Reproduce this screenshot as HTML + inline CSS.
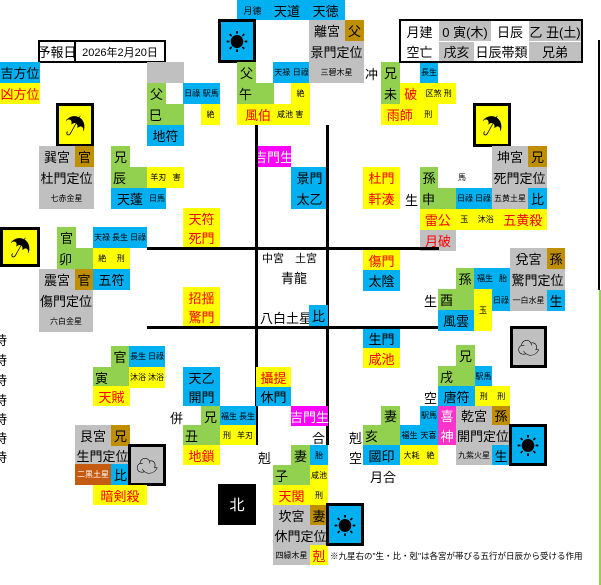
<!DOCTYPE html>
<html><head><meta charset="utf-8"><style>
body{margin:0;width:601px;height:585px;position:relative;overflow:hidden;background:#fff;font-family:"Liberation Sans","Noto Sans CJK JP",sans-serif;}
.c{position:absolute;box-sizing:border-box;display:flex;align-items:center;justify-content:center;font-size:13px;color:#000;white-space:nowrap;}
.s{font-size:8px;justify-content:space-around;}
.r{color:#f00}
.B{background:#00B0F0}.G{background:#92D050}.Y{background:#FFFF00}.A{background:#C0C0C0}.N{background:#BF8F00}.M{background:#FF00FF;color:#fff}
.L{position:absolute;background:#000}
.ic{position:absolute;box-sizing:border-box;border:3px solid #000;display:flex;align-items:center;justify-content:center;font-size:22px;}
.t{position:absolute;font-size:13px;}
</style></head><body>
<div class="c" style="left:38px;top:40px;width:38px;height:23px;border:2px solid #000">予報日</div>
<div class="c" style="left:74px;top:40px;width:92px;height:23px;border:2px solid #000;font-size:11px">2026年2月20日</div>
<div class="c B" style="left:0;top:62px;width:40px;height:21px">吉方位</div>
<div class="c Y r" style="left:0;top:83px;width:40px;height:21px">凶方位</div>
<div class="ic Y" style="left:56px;top:103px;width:38px;height:44px">☂</div>
<div class="c A" style="left:39px;top:146px;width:36px;height:21px">巽宮</div>
<div class="c N" style="left:75px;top:146px;width:19px;height:21px">官</div>
<div class="c A" style="left:39px;top:167px;width:55px;height:21px">杜門定位</div>
<div class="c A s" style="left:39px;top:188px;width:55px;height:21px">七赤金星</div>
<div class="c A" style="left:147px;top:62px;width:37px;height:21px"></div>
<div class="c G" style="left:147px;top:83px;width:19px;height:21px">父</div>
<div class="c B s" style="left:183px;top:83px;width:37px;height:21px"><span>日祿</span><span>駅馬</span></div>
<div class="c G" style="left:147px;top:104px;width:37px;height:21px;justify-content:flex-start;padding-left:2px">巳</div>
<div class="c Y s" style="left:201px;top:104px;width:19px;height:21px">絶</div>
<div class="c B" style="left:147px;top:125px;width:37px;height:21px">地符</div>
<div class="c G" style="left:111px;top:146px;width:19px;height:21px">兄</div>
<div class="c G" style="left:111px;top:167px;width:37px;height:21px;justify-content:flex-start;padding-left:2px">辰</div>
<div class="c Y s" style="left:147px;top:167px;width:37px;height:21px"><span>羊刃</span><span>害</span></div>
<div class="c B" style="left:111px;top:188px;width:55px;height:21px;justify-content:flex-start;padding-left:6px">天蓬<span style="font-size:8px;margin-left:6px">日馬</span></div>
<div class="c B" style="left:237px;top:0;width:108px;height:20px;justify-content:space-around"><span style="font-size:9px">月德</span><span>天道</span><span>天徳</span></div>
<div class="ic B" style="left:218px;top:19px;width:38px;height:44px">☀</div>
<div class="c G" style="left:237px;top:62px;width:19px;height:21px">父</div>
<div class="c B s" style="left:273px;top:62px;width:37px;height:21px"><span>天禄</span><span>日祿</span></div>
<div class="c G" style="left:237px;top:83px;width:37px;height:21px;justify-content:flex-start;padding-left:2px">午</div>
<div class="c Y s" style="left:291px;top:83px;width:19px;height:21px">絶</div>
<div class="c Y" style="left:237px;top:104px;width:73px;height:21px;justify-content:flex-start;padding-left:8px"><span class="r">風伯</span><span style="font-size:8px;margin-left:6px">咸池 害</span></div>
<div class="c A" style="left:309px;top:20px;width:36px;height:21px">離宮</div>
<div class="c N" style="left:345px;top:20px;width:19px;height:21px">父</div>
<div class="c A" style="left:309px;top:41px;width:55px;height:21px">景門定位</div>
<div class="c A s" style="left:309px;top:62px;width:55px;height:21px">三碧木星</div>
<div class="t" style="left:365px;top:64px">冲</div>
<div class="c G" style="left:381px;top:62px;width:19px;height:21px">兄</div>
<div class="c B s" style="left:420px;top:62px;width:18px;height:21px">長生</div>
<div class="c G" style="left:381px;top:83px;width:19px;height:21px">未</div>
<div class="c Y" style="left:400px;top:83px;width:56px;height:21px;justify-content:space-around"><span class="r">破</span><span style="font-size:8px">区煞 刑</span></div>
<div class="c Y" style="left:381px;top:104px;width:57px;height:21px;justify-content:space-around"><span class="r">雨師</span><span style="font-size:8px">刑</span></div>
<div style="position:absolute;left:399px;top:19px;width:184px;height:44px;border:2px solid #000;box-sizing:border-box"></div>
<div class="c" style="left:401px;top:21px;width:37px;height:20px">月建</div>
<div class="c A" style="left:439px;top:21px;width:52px;height:20px">0 寅(木)</div>
<div class="c" style="left:492px;top:21px;width:36px;height:20px">日辰</div>
<div class="c A" style="left:529px;top:21px;width:52px;height:20px">乙 丑(土)</div>
<div class="c" style="left:401px;top:42px;width:37px;height:19px">空亡</div>
<div class="c A" style="left:439px;top:42px;width:35px;height:19px">戌亥</div>
<div class="c" style="left:475px;top:42px;width:53px;height:19px">日辰帯類</div>
<div class="c A" style="left:529px;top:42px;width:52px;height:19px">兄弟</div>
<div class="L" style="left:598px;top:40px;width:2px;height:250px"></div>
<div style="position:absolute;left:599px;top:290px;width:2px;height:295px;background:#92D050"></div>
<div class="ic Y" style="left:473px;top:103px;width:38px;height:44px">☂</div>
<div class="c A" style="left:492px;top:146px;width:36px;height:21px">坤宮</div>
<div class="c N" style="left:528px;top:146px;width:19px;height:21px">兄</div>
<div class="c A" style="left:492px;top:167px;width:55px;height:21px">死門定位</div>
<div class="c A s" style="left:492px;top:188px;width:36px;height:21px">五黄土星</div>
<div class="c B" style="left:528px;top:188px;width:19px;height:21px">比</div>
<div class="c G" style="left:420px;top:167px;width:18px;height:21px">孫</div>
<div class="t" style="left:458px;top:172px;font-size:8px">馬</div>
<div class="t" style="left:405px;top:190px">生</div>
<div class="c G" style="left:420px;top:188px;width:36px;height:21px;justify-content:flex-start;padding-left:2px">申</div>
<div class="c B s" style="left:456px;top:188px;width:36px;height:21px"><span>日祿</span><span>日祿</span></div>
<div class="c Y" style="left:420px;top:209px;width:127px;height:21px;justify-content:space-around"><span class="r">雷公</span><span style="font-size:8px">玉</span><span style="font-size:8px">沐浴</span><span class="r">五黄殺</span></div>
<div class="c A r" style="left:420px;top:230px;width:36px;height:21px">月破</div>
<div class="c Y r" style="left:363px;top:167px;width:37px;height:21px">杜門</div>
<div class="c Y r" style="left:363px;top:188px;width:37px;height:21px">軒湊</div>
<div class="c B" style="left:291px;top:167px;width:37px;height:21px">景門</div>
<div class="c B" style="left:291px;top:188px;width:37px;height:21px">太乙</div>
<div class="c M" style="left:256px;top:146px;width:35px;height:21px">吉門生</div>
<div class="L" style="left:255px;top:125px;width:3px;height:320px"></div>
<div class="L" style="left:326px;top:125px;width:3px;height:320px"></div>
<div class="L" style="left:147px;top:247px;width:292px;height:3px"></div>
<div class="L" style="left:147px;top:326px;width:292px;height:3px"></div>
<div class="t" style="left:262px;top:250px;font-size:11px">中宮　土宮</div>
<div class="t" style="left:281px;top:268px">青龍</div>
<div class="t" style="left:260px;top:308px">八白土星</div>
<div class="c B" style="left:309px;top:305px;width:19px;height:21px">比</div>
<div class="c Y r" style="left:183px;top:208px;width:37px;height:20px">天符</div>
<div class="c Y r" style="left:183px;top:228px;width:37px;height:19px">死門</div>
<div class="c Y r" style="left:183px;top:287px;width:37px;height:20px">招揺</div>
<div class="c Y r" style="left:183px;top:307px;width:37px;height:19px">驚門</div>
<div class="c Y r" style="left:363px;top:250px;width:37px;height:20px">傷門</div>
<div class="c B" style="left:363px;top:270px;width:37px;height:21px">太陰</div>
<div class="c B" style="left:363px;top:329px;width:37px;height:19px">生門</div>
<div class="c Y r" style="left:363px;top:348px;width:37px;height:20px">咸池</div>
<div class="ic Y" style="left:0;top:227px;width:40px;height:40px">☂</div>
<div class="c G" style="left:57px;top:227px;width:19px;height:21px">官</div>
<div class="c G" style="left:57px;top:248px;width:36px;height:21px;justify-content:flex-start;padding-left:2px">卯</div>
<div class="c B s" style="left:93px;top:227px;width:54px;height:21px"><span>天禄</span><span>長生</span><span>日祿</span></div>
<div class="c Y s" style="left:93px;top:248px;width:37px;height:21px"><span>絶</span><span>刑</span></div>
<div class="c A" style="left:39px;top:269px;width:36px;height:21px">震宮</div>
<div class="c N" style="left:75px;top:269px;width:18px;height:21px">官</div>
<div class="c B" style="left:93px;top:269px;width:37px;height:21px">五符</div>
<div class="c A" style="left:39px;top:290px;width:54px;height:21px">傷門定位</div>
<div class="c A s" style="left:39px;top:311px;width:54px;height:21px">六白金星</div>
<div class="t" style="left:-6px;top:330px">時</div>
<div class="t" style="left:-6px;top:350px">時</div>
<div class="t" style="left:-6px;top:370px">時</div>
<div class="t" style="left:-6px;top:390px">時</div>
<div class="t" style="left:-6px;top:409px">時</div>
<div class="t" style="left:-6px;top:428px">時</div>
<div class="t" style="left:-6px;top:447px">時</div>
<div class="c G" style="left:111px;top:346px;width:18px;height:21px">官</div>
<div class="c B s" style="left:129px;top:346px;width:36px;height:21px"><span>長生</span><span>日祿</span></div>
<div class="c G" style="left:93px;top:367px;width:36px;height:21px;justify-content:flex-start;padding-left:2px">寅</div>
<div class="c Y s" style="left:129px;top:367px;width:36px;height:21px"><span>沐浴</span><span>沐浴</span></div>
<div class="c Y r" style="left:93px;top:386px;width:37px;height:20px">天賊</div>
<div class="c A" style="left:75px;top:425px;width:36px;height:21px">艮宮</div>
<div class="c N" style="left:111px;top:425px;width:19px;height:21px">兄</div>
<div class="c A" style="left:75px;top:446px;width:55px;height:19px">生門定位</div>
<div class="c s" style="left:75px;top:464px;width:36px;height:21px;background:#C55A11;color:#fff">二黒土星</div>
<div class="c B" style="left:111px;top:464px;width:19px;height:21px">比</div>
<div class="ic A" style="left:128px;top:444px;width:38px;height:42px">☁</div>
<div class="c Y r" style="left:93px;top:485px;width:54px;height:20px">暗剣殺</div>
<div class="c B" style="left:183px;top:367px;width:37px;height:20px">天乙</div>
<div class="c B" style="left:183px;top:387px;width:37px;height:19px">開門</div>
<div class="t" style="left:170px;top:408px">併</div>
<div class="c G" style="left:201px;top:406px;width:19px;height:20px">兄</div>
<div class="c B s" style="left:220px;top:406px;width:36px;height:20px"><span>福生</span><span>長生</span></div>
<div class="c G" style="left:183px;top:425px;width:37px;height:20px;justify-content:flex-start;padding-left:2px">丑</div>
<div class="c Y s" style="left:220px;top:425px;width:36px;height:20px"><span>刑</span><span>羊刃</span></div>
<div class="c Y r" style="left:183px;top:445px;width:37px;height:20px">地鎖</div>
<div class="c Y r" style="left:256px;top:367px;width:35px;height:20px">攝提</div>
<div class="c B" style="left:256px;top:387px;width:35px;height:19px">休門</div>
<div class="c M" style="left:291px;top:406px;width:37px;height:20px">吉門生</div>
<div class="t" style="left:312px;top:428px">合</div>
<div class="t" style="left:258px;top:448px">剋</div>
<div class="c" style="left:218px;top:484px;width:38px;height:41px;background:#000;color:#fff;font-size:15px">北</div>
<div class="c G" style="left:291px;top:445px;width:19px;height:20px">妻</div>
<div class="c B s" style="left:310px;top:445px;width:18px;height:20px">胎</div>
<div class="c G" style="left:273px;top:465px;width:37px;height:20px;justify-content:flex-start;padding-left:2px">子</div>
<div class="c Y s" style="left:310px;top:465px;width:18px;height:20px">咸池</div>
<div class="c Y r" style="left:273px;top:485px;width:37px;height:20px">天関</div>
<div class="c Y s" style="left:310px;top:485px;width:18px;height:20px">刑</div>
<div class="c A" style="left:273px;top:505px;width:37px;height:20px">坎宮</div>
<div class="c N" style="left:310px;top:505px;width:18px;height:20px">妻</div>
<div class="c A" style="left:273px;top:525px;width:55px;height:20px">休門定位</div>
<div class="c A s" style="left:273px;top:545px;width:37px;height:20px">四緑木星</div>
<div class="c Y r" style="left:310px;top:545px;width:18px;height:20px">剋</div>
<div class="ic B" style="left:326px;top:503px;width:38px;height:43px">☀</div>
<div class="t" style="left:330px;top:550px;font-size:8.5px">※九星右の"生・比・剋"は各宮が帯びる五行が日辰から受ける作用</div>
<div class="c G" style="left:456px;top:345px;width:19px;height:21px">兄</div>
<div class="c G" style="left:438px;top:366px;width:37px;height:21px;justify-content:flex-start;padding-left:2px">戌</div>
<div class="c B s" style="left:475px;top:366px;width:17px;height:21px">駅馬</div>
<div class="t" style="left:424px;top:388px">空</div>
<div class="c B" style="left:438px;top:386px;width:37px;height:20px">唐符</div>
<div class="c Y s" style="left:475px;top:386px;width:35px;height:20px"><span>刑</span><span>刑</span></div>
<div class="c G" style="left:381px;top:406px;width:19px;height:19px">妻</div>
<div class="c B s" style="left:420px;top:406px;width:18px;height:19px">駅馬</div>
<div class="c" style="left:438px;top:406px;width:18px;height:19px;background:#FF33CC;color:#fff">喜</div>
<div class="c" style="left:438px;top:425px;width:18px;height:20px;background:#FF33CC;color:#fff">神</div>
<div class="c A" style="left:456px;top:406px;width:36px;height:19px">乾宮</div>
<div class="c N" style="left:492px;top:406px;width:18px;height:19px">孫</div>
<div class="c A" style="left:456px;top:425px;width:54px;height:20px">開門定位</div>
<div class="c A s" style="left:456px;top:445px;width:36px;height:20px">九紫火星</div>
<div class="c B" style="left:492px;top:445px;width:18px;height:20px">生</div>
<div class="ic B" style="left:509px;top:424px;width:38px;height:42px">☀</div>
<div class="t" style="left:349px;top:428px">剋</div>
<div class="c G" style="left:363px;top:425px;width:37px;height:20px;justify-content:flex-start;padding-left:2px">亥</div>
<div class="c B s" style="left:400px;top:425px;width:38px;height:20px"><span>福生</span><span>天喜</span></div>
<div class="t" style="left:349px;top:448px">空</div>
<div class="c B" style="left:363px;top:445px;width:37px;height:20px">國印</div>
<div class="c Y s" style="left:400px;top:445px;width:38px;height:20px"><span>大耗</span><span>絶</span></div>
<div class="t" style="left:370px;top:467px">月合</div>
<div class="c A" style="left:510px;top:248px;width:37px;height:21px">兌宮</div>
<div class="c N" style="left:547px;top:248px;width:18px;height:21px">孫</div>
<div class="c A" style="left:510px;top:269px;width:55px;height:21px">驚門定位</div>
<div class="c A s" style="left:510px;top:290px;width:37px;height:21px">一白水星</div>
<div class="c B" style="left:547px;top:290px;width:18px;height:21px">生</div>
<div class="c G" style="left:456px;top:268px;width:18px;height:21px">孫</div>
<div class="c B s" style="left:474px;top:268px;width:36px;height:21px"><span>福生</span><span>胎</span></div>
<div class="t" style="left:424px;top:291px">生</div>
<div class="c G" style="left:438px;top:289px;width:36px;height:21px;justify-content:flex-start;padding-left:2px">酉</div>
<div class="c Y s" style="left:474px;top:289px;width:18px;height:42px">玉</div>
<div class="c B s" style="left:492px;top:289px;width:18px;height:22px">日祿</div>
<div class="c B" style="left:438px;top:310px;width:36px;height:21px">風雲</div>
<div class="ic A" style="left:510px;top:326px;width:37px;height:42px">☁</div>
</body></html>
